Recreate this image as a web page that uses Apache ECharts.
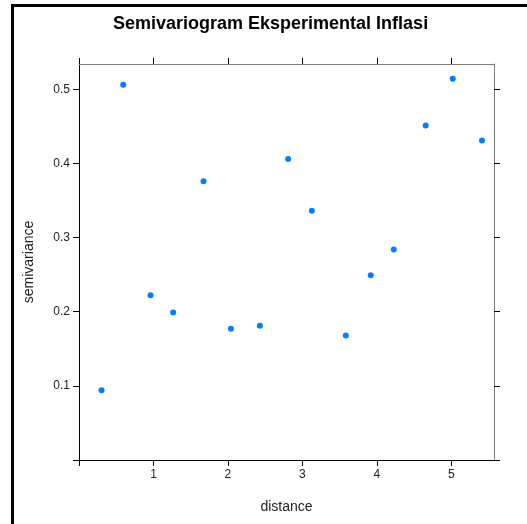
<!DOCTYPE html>
<html>
<head>
<meta charset="utf-8">
<script src="https://cdn.jsdelivr.net/npm/echarts@6/dist/echarts.min.js"></script>
<style>
  html, body { margin: 0; padding: 0; background: #fff; }
  #main { width: 527px; height: 524px; }
</style>
</head>
<body>
<div id="main"></div>
<script>
// semivariogram points
var distance = [0.303, 0.594, 0.961, 1.265, 1.672, 2.040, 2.429, 2.809, 3.127, 3.583, 3.918, 4.227, 4.656, 5.019, 5.412];
var gamma = [0.094, 0.506, 0.222, 0.199, 0.376, 0.177, 0.181, 0.406, 0.336, 0.168, 0.249, 0.284, 0.451, 0.514, 0.431];

var xTicks = [0, 1, 2, 3, 4, 5];
var xLabels = [1, 2, 3, 4, 5];
var yTicks = [0, 0.1, 0.2, 0.3, 0.4, 0.5];
var yLabels = [0.1, 0.2, 0.3, 0.4, 0.5];

var points = distance.map(function (d, i) { return [d, gamma[i]]; });

var font = 'Liberation Sans, Arial, sans-serif';
var xMin = 0, xMax = 5.573, yMin = 0, yMax = 0.534;

function axisBase(pos, showLabel, lineColor) {
    return {
        type: 'value',
        position: pos,
        scale: false,
        splitLine: { show: false },
        axisLine: { show: true, onZero: false, lineStyle: { color: lineColor, width: 1 } },
        axisTick: { show: true, inside: false, length: 6, lineStyle: { color: '#000' } },
        axisLabel: {
            show: showLabel,
            color: '#222',
            fontFamily: font,
            fontSize: 12,
            margin: 9
        }
    };
}

var xBottom = axisBase('bottom', true, '#000');
xBottom.min = xMin; xBottom.max = xMax;
xBottom.axisTick.customValues = xTicks;
xBottom.axisLabel.customValues = xLabels;
xBottom.name = 'distance';
xBottom.nameLocation = 'middle';
xBottom.nameGap = 40;
xBottom.nameTextStyle = { fontFamily: font, fontSize: 14, color: '#222' };

var xTop = axisBase('top', false, '#808080');
xTop.min = xMin; xTop.max = xMax;
xTop.axisTick.customValues = xTicks;

var yLeft = axisBase('left', true, '#000');
yLeft.min = yMin; yLeft.max = yMax;
yLeft.axisTick.customValues = yTicks;
yLeft.axisLabel.customValues = yLabels;
yLeft.axisLabel.formatter = function (v) { return v.toFixed(1); };
yLeft.name = 'semivariance';
yLeft.nameLocation = 'middle';
yLeft.nameGap = 43;
yLeft.nameTextStyle = { fontFamily: font, fontSize: 14, color: '#222' };

var yRight = axisBase('right', false, '#808080');
yRight.min = yMin; yRight.max = yMax;
yRight.axisTick.customValues = yTicks;

var myChart = echarts.init(document.getElementById('main'), null, { renderer: 'canvas' });

var option = {
    animation: false,
    backgroundColor: '#fff',
    title: {
        text: 'Semivariogram Eksperimental Inflasi',
        left: 108,
        top: 10,
        textStyle: { fontFamily: font, fontSize: 18, fontWeight: 'bold', color: '#000' }
    },
    grid: { left: 79, top: 64, right: 33, bottom: 64, containLabel: false },
    xAxis: [xBottom, xTop],
    yAxis: [yLeft, yRight],
    graphic: [
        { type: 'rect', shape: { x: 11, y: 4, width: 3, height: 520 }, style: { fill: '#000' } },
        { type: 'rect', shape: { x: 11, y: 4, width: 516, height: 3 }, style: { fill: '#000' } }
    ],
    series: [{
        type: 'scatter',
        xAxisIndex: 0,
        yAxisIndex: 0,
        symbol: 'circle',
        symbolSize: 6,
        itemStyle: { color: '#0080ff', opacity: 1 },
        data: points
    }]
};

myChart.setOption(option);
</script>
</body>
</html>
